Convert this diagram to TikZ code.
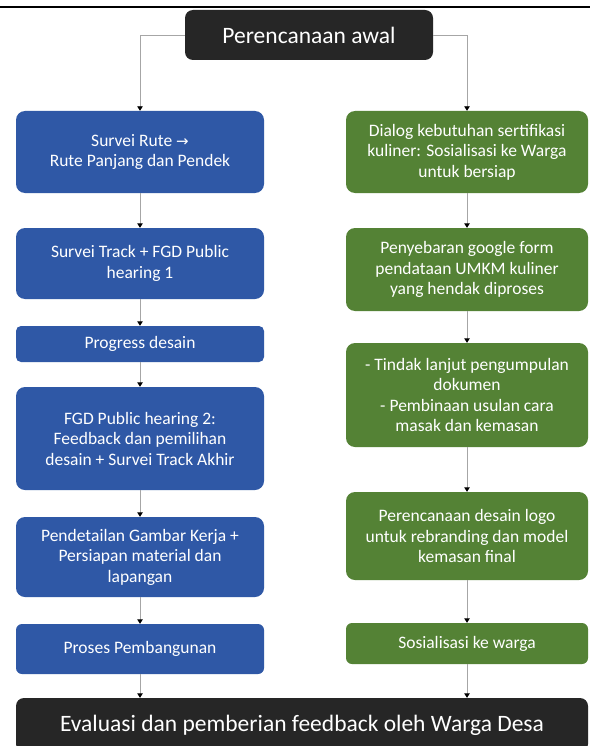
\documentclass[tikz,border=0pt]{standalone}
\usepackage{fontspec}
\setmainfont{Carlito}
\newfontfamily\symfont{DejaVu Sans}
\usetikzlibrary{arrows.meta}
\definecolor{bluebox}{HTML}{2F58A6}
\definecolor{greenbox}{HTML}{548235}
\definecolor{darkbox}{HTML}{262626}
\definecolor{linegray}{HTML}{A6A6A6}
\begin{document}
\begin{tikzpicture}[x=1pt,y=-1pt,
  box/.style={rounded corners=9pt, text=white, align=center, inner sep=0pt,
    font=\fontsize{17.5}{20.5}\selectfont},
  lbox/.style={box, fill=bluebox, minimum width=248pt},
  rbox/.style={box, fill=greenbox, minimum width=242pt},
  dbox/.style={rounded corners=8pt, fill=darkbox, text=white, inner sep=0pt},
  conn/.style={draw=linegray, line width=0.9pt,
    -{Triangle[width=5.5pt,length=4.5pt,color=black]}}
]
\clip (0,0) rectangle (590,746);
\fill[white] (0,0) rectangle (590,746);
\draw[line width=2.5pt] (0,7) -- (590,7);

\node[dbox, minimum width=248pt, minimum height=50pt, font=\fontsize{23.5}{28}\selectfont] (top) at (309,35) {Perencanaan awal};

\node[lbox, minimum height=82pt] (L1) at (140,152) {Survei Rute {\symfont\fontsize{15}{20.5}\selectfont →}\\Rute Panjang dan Pendek};
\node[lbox, minimum height=71pt] (L2) at (140,263.5) {Survei Track + FGD Public\\hearing 1};
\node[lbox, minimum height=36pt, rounded corners=5pt] (L3) at (140,344) {Progress desain};
\node[lbox, minimum height=103pt] (L4) at (140,438.5) {FGD Public hearing 2:\\Feedback dan pemilihan\\desain + Survei Track Akhir};
\node[lbox, minimum height=80pt] (L5) at (140,557) {Pendetailan Gambar Kerja +\\Persiapan material dan\\lapangan};
\node[lbox, minimum height=50pt, rounded corners=6pt] (L6) at (140,649) {Proses Pembangunan};

\node[rbox, minimum height=82pt] (R1) at (467,152) {Dialog kebutuhan sertifikasi\\kuliner: Sosialisasi ke Warga\\untuk bersiap};
\node[rbox, minimum height=83pt] (R2) at (467,269.5) {Penyebaran google form\\pendataan UMKM kuliner\\yang hendak diproses};
\node[rbox, minimum height=104pt] (R3) at (467,395) {- Tindak lanjut pengumpulan\\dokumen\\- Pembinaan usulan cara\\masak dan kemasan};
\node[rbox, minimum height=88pt] (R4) at (467,536) {Perencanaan desain logo\\untuk rebranding dan model\\kemasan final};
\node[rbox, minimum height=41pt, rounded corners=6pt] (R5) at (467,643.5) {Sosialisasi ke warga};

\node[dbox, minimum width=572pt, minimum height=54pt, font=\fontsize{23.5}{28}\selectfont] (bot) at (302,725) {Evaluasi dan pemberian feedback oleh Warga Desa};

\draw[conn] (top.west) -| (L1.north);
\draw[conn] (top.east) -| (R1.north);
\draw[conn] (L1) -- (L2);
\draw[conn] (L2) -- (L3);
\draw[conn] (L3) -- (L4);
\draw[conn] (L4) -- (L5);
\draw[conn] (L5) -- (L6);
\draw[conn] (R1) -- (R2);
\draw[conn] (R2) -- (R3);
\draw[conn] (R3) -- (R4);
\draw[conn] (R4) -- (R5);
\draw[conn] (L6.south) -- (L6.south |- bot.north);
\draw[conn] (R5.south) -- (R5.south |- bot.north);
\end{tikzpicture}
\end{document}
